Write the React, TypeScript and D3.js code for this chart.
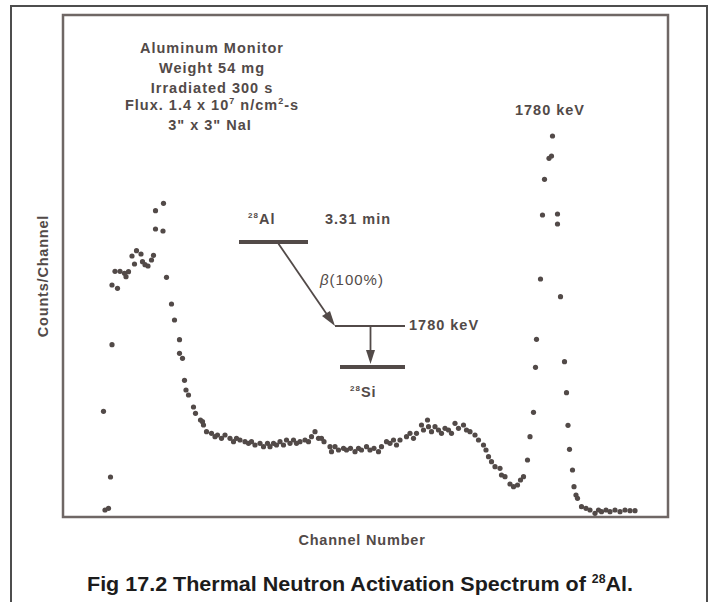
import React from "react";
import { scaleLinear } from "d3";

// channel numbers (left rise, continuum, 1780 keV peak, tail)
const channels = [
  79, 82, 89, 93, 96, 96, 102, 107, 112, 121, 124, 129, 136, 141, 145, 154, 157, 162, 168, 175,
  179, 183, 183, 198, 199, 205, 215, 221, 231, 231, 237, 241, 244, 249, 259, 263, 273, 277, 279, 285,
  295, 302, 307, 315, 322, 332, 339, 345, 352, 362, 369, 375, 382, 392, 399, 407, 412, 419, 425, 432,
  439, 445, 452, 459, 465, 472, 482, 489, 495, 502, 509, 515, 520, 532, 535, 542, 549, 559, 565, 573,
  582, 589, 595, 605, 612, 620, 629, 635, 645, 652, 659, 665, 672, 685, 692, 699, 705, 715, 719, 727,
  729, 735, 742, 749, 755, 762, 769, 775, 782, 789, 799, 805, 812, 822, 829, 839, 844, 849, 855, 862,
  872, 875, 882, 892, 899, 907, 913, 919, 927, 932, 939, 943, 945, 953, 957, 961, 970, 975, 977, 987,
  987, 993, 1001, 1005, 1008, 1011, 1017, 1020, 1024, 1027, 1035, 1044, 1052, 1062, 1069, 1075, 1084, 1092, 1102, 1112,
  1122, 1132, 1142,
];

const counts = [
  2114, 140, 174, 800, 3446, 4640, 4914, 4574, 4914, 4874, 4806, 4906, 5220, 5060, 5326, 5260, 5106, 5046, 5020, 5140,
  5234, 5760, 6126, 5720, 6274, 4794, 4260, 3940, 3546, 3274, 3174, 2734, 2540, 2440, 2200, 2074, 1940, 1906, 1840, 1706,
  1674, 1606, 1640, 1574, 1640, 1574, 1506, 1574, 1540, 1506, 1474, 1506, 1440, 1474, 1406, 1474, 1406, 1474, 1440, 1506,
  1440, 1540, 1474, 1540, 1474, 1506, 1540, 1506, 1606, 1706, 1574, 1574, 1506, 1406, 1306, 1406, 1340, 1374, 1340, 1374,
  1306, 1374, 1340, 1406, 1340, 1374, 1306, 1406, 1506, 1474, 1540, 1440, 1540, 1606, 1674, 1574, 1674, 1840, 1740, 1940,
  1806, 1706, 1806, 1740, 1674, 1774, 1740, 1674, 1874, 1774, 1840, 1740, 1706, 1640, 1540, 1440, 1340, 1206, 1106, 1006,
  974, 840, 806, 660, 606, 640, 740, 806, 1140, 1606, 2094, 2994, 3554, 4760, 6040, 6754, 7174, 7220, 7620, 6060,
  5860, 4406, 3106, 2486, 1834, 1354, 940, 606, 440, 374, 206, 174, 140, 74, 140, 106, 140, 106, 140, 106,
  140, 126, 126,
];

const infoLines = ["Aluminum Monitor", "Weight 54 mg", "Irradiated 300 s"];

const ink = "#524a48";
const font = "'Liberation Sans', Arial, sans-serif";

function App() {
  const width = 710;
  const height = 602;
  const box = { left: 63, right: 668, top: 15, bottom: 517 };

  const x = scaleLinear().domain([0, 1208]).range([64, 668]);
  const y = scaleLinear().domain([0, 10000]).range([517, 17]);

  const points = channels.map((c, i) => [c, counts[i]]);

  const textStyle = {
    fontFamily: font,
    fontWeight: 700,
    fill: ink,
    fontSize: 14.5,
    letterSpacing: 1,
  };

  return (
    <svg
      width={width}
      height={height}
      style={{ position: "absolute", left: 0, top: 0, background: "#fff" }}
    >
      <path d="M11,602 V6 H707 V602" fill="none" stroke="#4d4d4d" strokeWidth={2} />
      <rect
        x={box.left}
        y={box.top}
        width={box.right - box.left}
        height={box.bottom - box.top}
        fill="none"
        stroke="#6f6765"
        strokeWidth={2.5}
      />

      {points.map((d, i) => (
        <circle key={i} cx={x(d[0])} cy={y(d[1])} r={2.6} fill={ink} />
      ))}

      {/* sample notes */}
      <g style={textStyle} textAnchor="middle">
        {infoLines.map((t, i) => (
          <text key={t} x={212} y={53 + i * 20}>
            {t}
          </text>
        ))}
        <text x={212} y={110}>
          Flux. 1.4 x 10<tspan dy={-6} fontSize={9}>7</tspan>
          <tspan dy={6}> n/cm</tspan>
          <tspan dy={-6} fontSize={9}>2</tspan>
          <tspan dy={6}>-s</tspan>
        </text>
        <text x={210} y={130}>3" x 3" NaI</text>
      </g>

      <text x={550} y={115} textAnchor="middle" style={textStyle}>
        1780 keV
      </text>

      {/* decay scheme */}
      <g style={textStyle}>
        <text x={248} y={224}>
          <tspan fontSize={8} dy={-6}>28</tspan>
          <tspan dy={6}>Al</tspan>
        </text>
        <text x={325} y={224}>3.31 min</text>
        <text x={320} y={285} fontWeight={400} fontSize={15}>
          <tspan fontStyle="italic">β</tspan>(100%)
        </text>
        <text x={409} y={330}>1780 keV</text>
        <text x={350} y={397}>
          <tspan fontSize={8} dy={-6}>28</tspan>
          <tspan dy={6}>Si</tspan>
        </text>
      </g>
      <line x1={239} x2={308} y1={242} y2={242} stroke={ink} strokeWidth={4} />
      <line x1={278} y1={243} x2={328} y2={316} stroke={ink} strokeWidth={1.8} />
      <path d="M335,326 L322,316 L330,311 Z" fill={ink} />
      <line x1={335} x2={405} y1={326} y2={326} stroke={ink} strokeWidth={1.8} />
      <line x1={370.5} x2={370.5} y1={326} y2={352} stroke={ink} strokeWidth={1.8} />
      <path d="M370.5,364 L366,350 L375,350 Z" fill={ink} />
      <line x1={340} x2={405} y1={367} y2={367} stroke={ink} strokeWidth={4} />

      {/* axis titles */}
      <text
        transform="translate(48,276) rotate(-90)"
        textAnchor="middle"
        style={{ ...textStyle, fontSize: 14.5, letterSpacing: 0.8 }}
      >
        Counts/Channel
      </text>
      <text
        x={362}
        y={545}
        textAnchor="middle"
        style={{ ...textStyle, fontSize: 14.5, letterSpacing: 0.8 }}
      >
        Channel Number
      </text>

      <text
        x={87}
        y={591}
        textLength={546}
        lengthAdjust="spacingAndGlyphs"
        style={{ fontFamily: font, fontWeight: 700, fontSize: 21, fill: "#1c1c1c" }}
      >
        Fig 17.2 Thermal Neutron Activation Spectrum of <tspan fontSize={12} dy={-8}>28</tspan>
        <tspan dy={8}>Al.</tspan>
      </text>
    </svg>
  );
}

export default App;
